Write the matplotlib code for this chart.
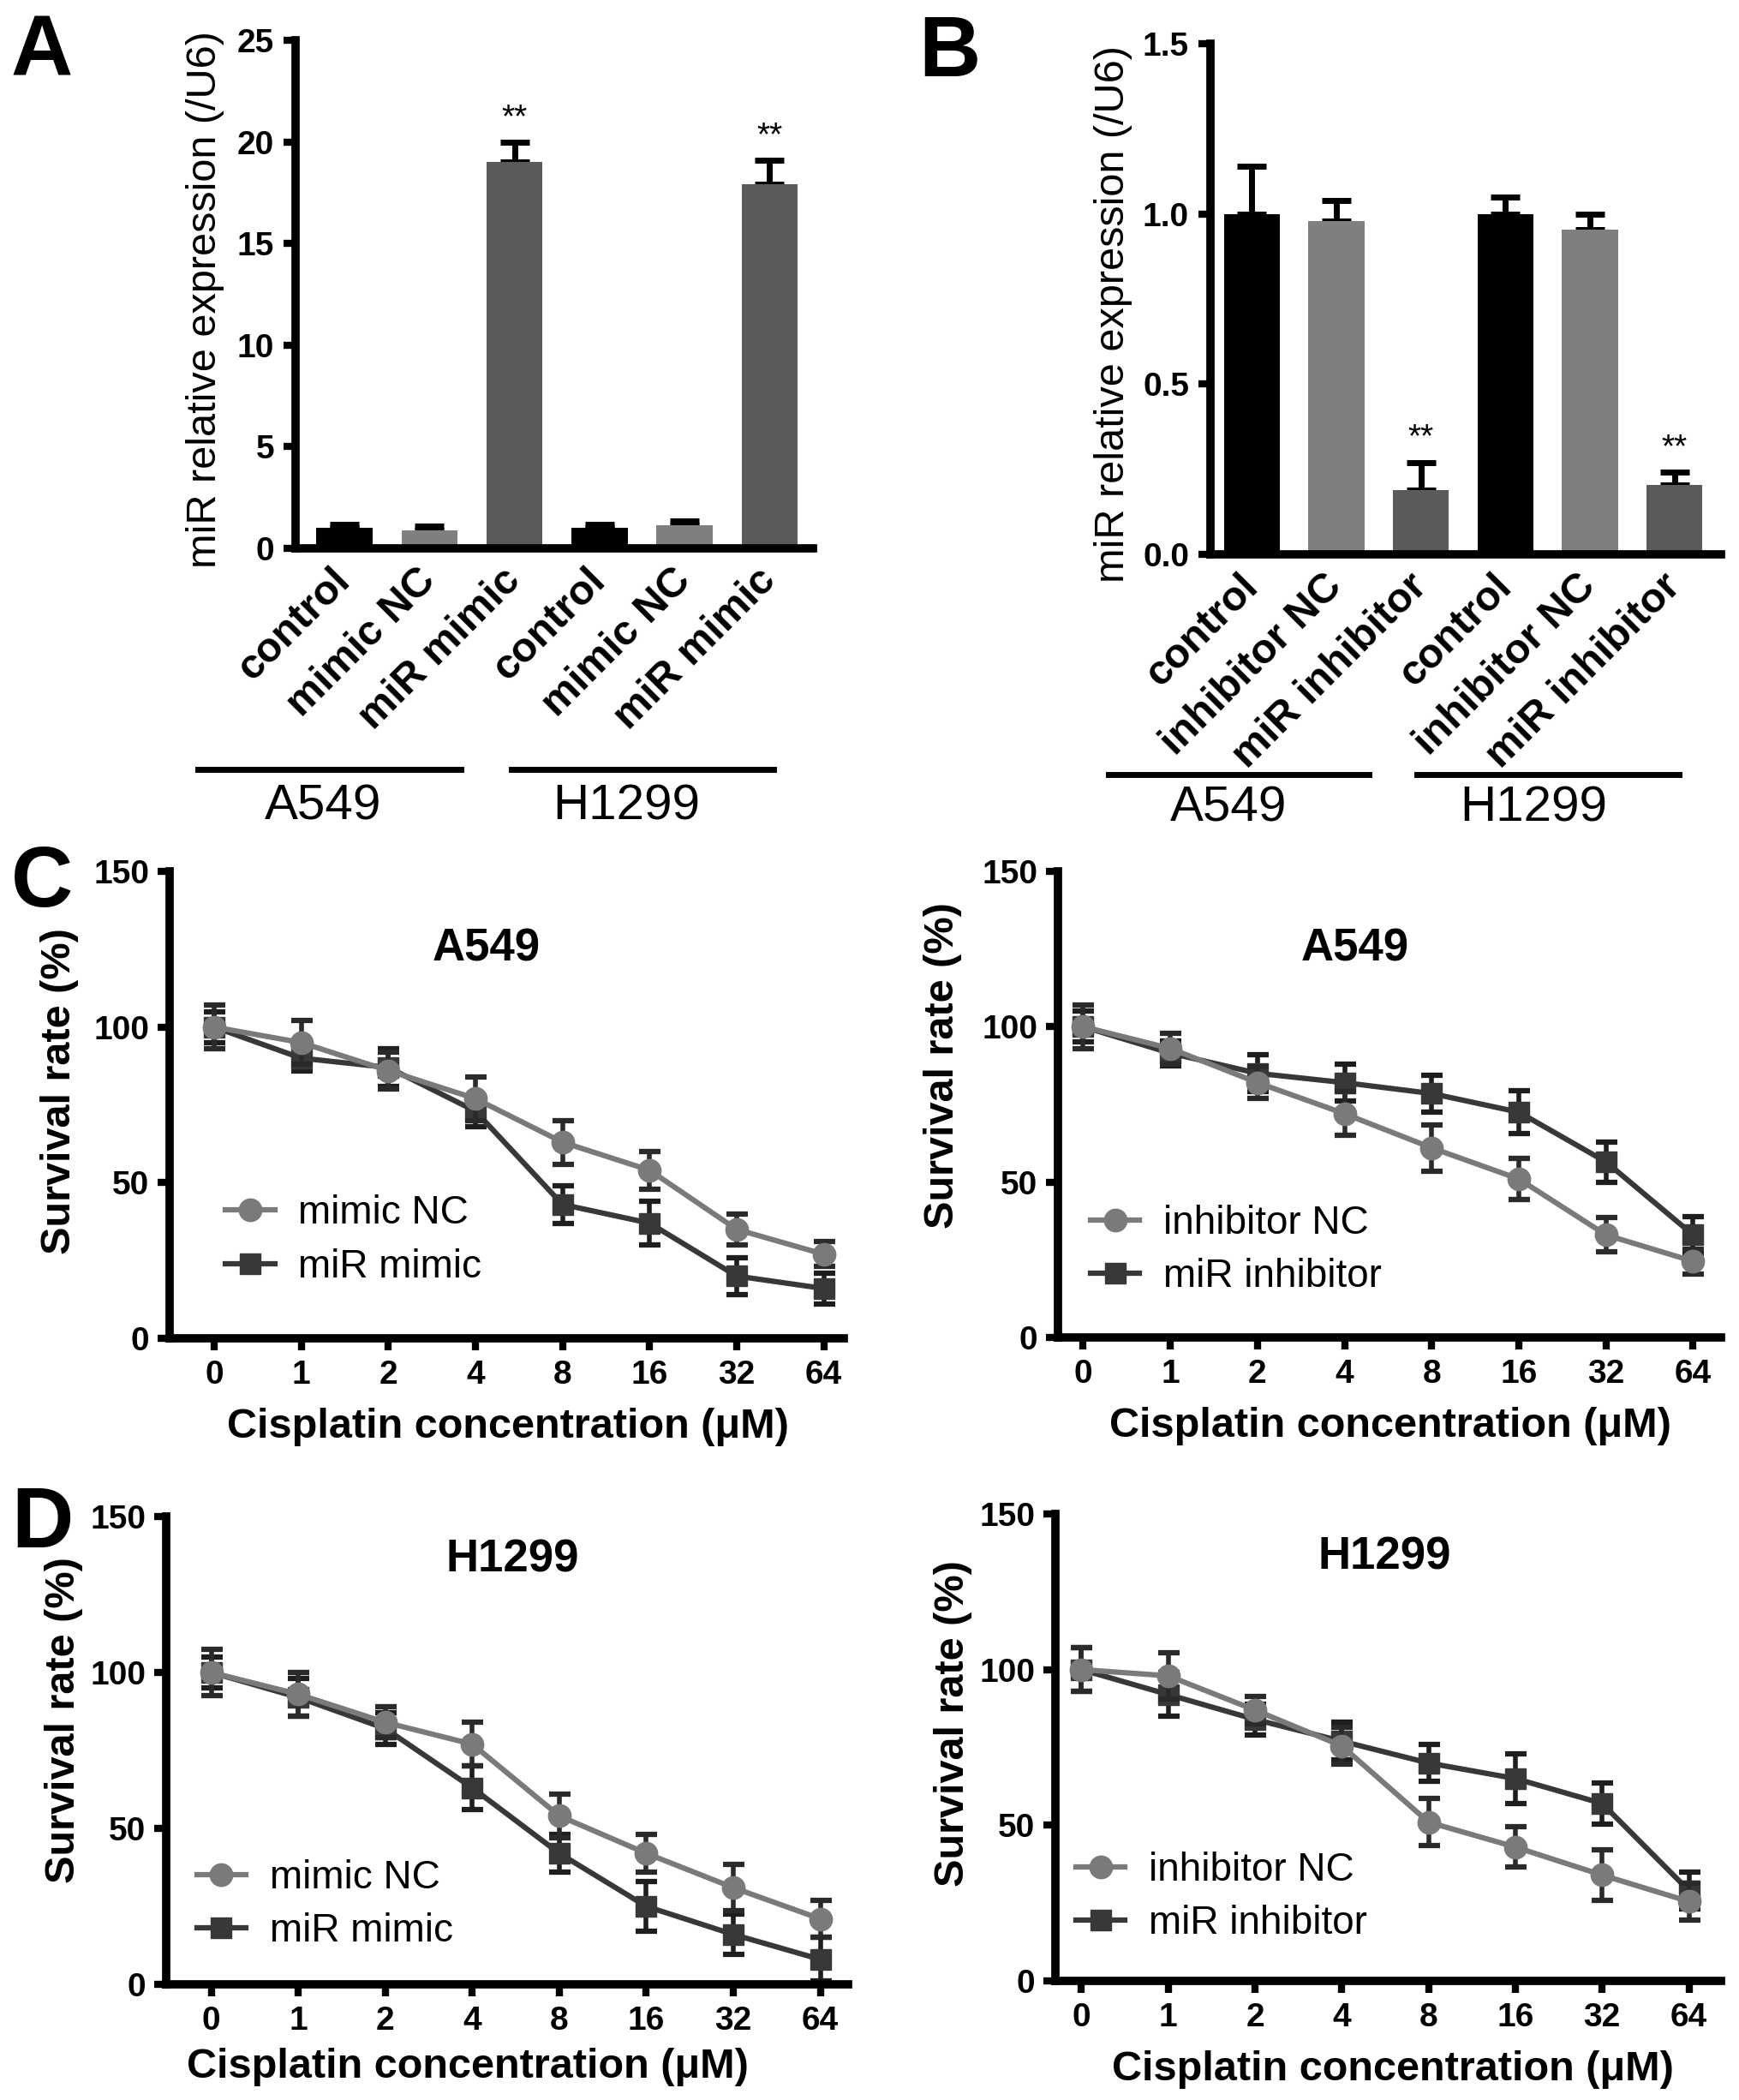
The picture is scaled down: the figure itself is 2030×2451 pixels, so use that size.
import matplotlib
matplotlib.use('Agg')
import matplotlib.pyplot as plt
from matplotlib.transforms import blended_transform_factory
import numpy as np

plt.rcParams['font.family'] = ['Liberation Sans', 'DejaVu Sans']

# ---- data ----
# panel A / B : qPCR bars
groups_a = ['control', 'mimic NC', 'miR mimic', 'control', 'mimic NC', 'miR mimic']
expr_a = [1.0, 0.9, 19.0, 1.0, 1.15, 17.9]
expr_a_err = [0.2, 0.2, 1.0, 0.2, 0.2, 1.2]

groups_b = ['control', 'inhibitor NC', 'miR inhibitor', 'control', 'inhibitor NC', 'miR inhibitor']
expr_b = [1.0, 0.98, 0.19, 1.0, 0.955, 0.205]
expr_b_err = [0.14, 0.06, 0.08, 0.05, 0.045, 0.037]

cell_lines = ['A549', 'H1299']
bar_colors = ['#000000', '#7f7f7f', '#5a5a5a', '#000000', '#7f7f7f', '#5a5a5a']

# panel C / D : survival curves
conc = ['0', '1', '2', '4', '8', '16', '32', '64']

a549_mimic_nc = [100, 95, 86, 77, 63, 54, 35, 27]
a549_mimic_nc_err = [7, 7, 6, 7, 7, 6, 5, 4]
a549_mir_mimic = [100, 90, 87, 73, 43, 37, 20, 16]
a549_mir_mimic_err = [5, 4, 6, 5, 6, 7, 6, 5]

a549_inh_nc = [100, 93, 82, 72, 61, 51, 33, 24.5]
a549_inh_nc_err = [7, 5, 5, 7, 7.5, 6.5, 5.5, 4]
a549_mir_inh = [100, 91.5, 85, 82, 78.5, 72.5, 56.5, 33]
a549_mir_inh_err = [5, 4, 6, 6, 6, 7, 6.5, 6]

h1299_mimic_nc = [100, 93, 84, 77, 54, 42, 31, 21]
h1299_mimic_nc_err = [7.5, 7, 5, 7, 7, 6, 7.5, 6]
h1299_mir_mimic = [100, 92, 82, 63, 42, 25, 16, 8]
h1299_mir_mimic_err = [5, 6, 5, 7, 6, 8, 6.5, 7]

h1299_inh_nc = [100, 98, 87, 75.5, 51, 43, 34, 25.5]
h1299_inh_nc_err = [7, 7.5, 4.5, 6, 7.5, 6.5, 8, 6]
h1299_mir_inh = [100, 92, 84, 77, 70, 65, 57, 29]
h1299_mir_inh_err = [7, 7, 5, 6, 6, 8, 6.5, 6]

W, H = 2031, 2451
fig = plt.figure(figsize=(W / 100, H / 100), dpi=100)


def add_ax(left, top, right, bottom):
    # pixel box -> figure fraction
    return fig.add_axes([left / W, 1 - bottom / H, (right - left) / W, (bottom - top) / H])


def style_axes(ax):
    for s in ['top', 'right']:
        ax.spines[s].set_visible(False)
    for s in ['left', 'bottom']:
        ax.spines[s].set_linewidth(7)
    ax.tick_params(width=6, length=10, color='black')


def bar_panel(ax, labels, vals, errs, ymax, yticks, fmt, star_gap, ylab_xy, lines, labs):
    x = np.arange(len(vals))
    ax.errorbar(x, vals, yerr=[np.zeros(len(vals)), errs], fmt='none', ecolor='black',
                elinewidth=5, capsize=12, capthick=5, zorder=1)
    ax.bar(x, vals, width=0.66, color=bar_colors, zorder=2)
    for i, lab in enumerate(labels):
        if lab.startswith('miR'):
            ax.text(i, vals[i] + errs[i] + star_gap, '**', ha='center', va='bottom', fontsize=28)
    style_axes(ax)
    ax.set_ylim(0, ymax)
    ax.set_yticks(yticks, [fmt % t for t in yticks], fontsize=28, weight='bold')
    ax.tick_params(axis='y', pad=8)
    ax.set_xticks(x, labels, rotation=45, ha='right', va='center', rotation_mode='anchor',
                  fontsize=35, weight='bold')
    ax.tick_params(axis='x', length=0, pad=22)
    ax.set_ylabel('miR relative expression (/U6)', fontsize=35)
    ax.yaxis.set_label_coords(*ylab_xy)
    ax.yaxis.label.set_va('center')
    trans = blended_transform_factory(ax.transData, ax.transAxes)
    for (x0, x1, yl), (name, xl, yt) in zip(lines, labs):
        ax.plot([x0, x1], [yl, yl], color='black', lw=5, transform=trans, clip_on=False)
        ax.text(xl, yt, name, transform=trans, ha='center', va='center', fontsize=42)


def line_panel(ax, nc, nc_err, mir, mir_err, names, title, title_xy, xlim, leg_xy,
               ylab_xy, xlab_xy):
    x = np.arange(len(conc))
    ax.errorbar(x, mir, yerr=mir_err, fmt='none', ecolor='#1e1e1e', elinewidth=4,
                capsize=9, capthick=4.5, zorder=2)
    h2, = ax.plot(x, mir, color='#383838', marker='s', ms=17, lw=4.5, zorder=3)
    ax.errorbar(x, nc, yerr=nc_err, fmt='none', ecolor='#2a2a2a', elinewidth=4,
                capsize=9, capthick=4.5, zorder=4)
    h1, = ax.plot(x, nc, color='#7a7a7a', marker='o', ms=19, lw=4.5, zorder=5)
    style_axes(ax)
    ax.set_xlim(*xlim)
    ax.set_ylim(0, 150)
    ax.set_yticks([0, 50, 100, 150], ['0', '50', '100', '150'], fontsize=28, weight='bold')
    ax.set_xticks(x, conc, fontsize=28, weight='bold')
    ax.tick_params(axis='x', pad=8)
    ax.tick_params(axis='y', pad=7)
    ax.text(title_xy[0], title_xy[1], title, ha='center', va='center', fontsize=38, weight='bold')
    ax.legend([h1, h2], names, loc='center left', bbox_to_anchor=leg_xy, frameon=False,
              fontsize=33, handlelength=1.25, handletextpad=0.6, labelspacing=0.4,
              borderpad=0, borderaxespad=0)
    ax.set_ylabel('Survival rate (%)', fontsize=35, weight='bold')
    ax.yaxis.set_label_coords(*ylab_xy)
    ax.yaxis.label.set_va('center')
    ax.set_xlabel('Cisplatin concentration (\u03bcM)', fontsize=35, weight='bold')
    ax.xaxis.set_label_coords(*xlab_xy)
    ax.xaxis.label.set_va('center')


# A
axA = add_ax(345, 47, 949, 640)
bar_panel(axA, groups_a, expr_a, expr_a_err, 25, [0, 5, 10, 15, 20, 25], '%d', 0.4,
          (-0.175, 0.49),
          [(-1.72, 1.37, -0.435), (1.96, 5.05, -0.435)],
          [(cell_lines[0], -0.25, -0.509), (cell_lines[1], 3.32, -0.509)])
axA.set_xlim(-0.575, 5.51)

# B
axB = add_ax(1413, 51, 2009, 647)
bar_panel(axB, groups_b, expr_b, expr_b_err, 1.5, [0.0, 0.5, 1.0, 1.5], '%.1f', 0.025,
          (-0.191, 0.47),
          [(-1.70, 1.38, -0.431), (1.95, 5.05, -0.431)],
          [(cell_lines[0], -0.28, -0.498), (cell_lines[1], 3.33, -0.498)])
axB.set_xlim(-0.49, 5.55)

# C
axC1 = add_ax(198, 1017, 985, 1562)
line_panel(axC1, a549_mimic_nc, a549_mimic_nc_err, a549_mir_mimic, a549_mir_mimic_err,
           ['mimic NC', 'miR mimic'], 'A549', (3.13, 125), (-0.51, 7.23), (0.083, 0.21),
           (-0.163, 0.53), (0.502, -0.19))
axC2 = add_ax(1235, 1017, 2009, 1561)
line_panel(axC2, a549_inh_nc, a549_inh_nc_err, a549_mir_inh, a549_mir_inh_err,
           ['inhibitor NC', 'miR inhibitor'], 'A549', (3.12, 125), (-0.29, 7.32), (0.049, 0.187),
           (-0.174, 0.584), (0.501, -0.19))

# D
axD1 = add_ax(194, 1770, 990, 2316)
line_panel(axD1, h1299_mimic_nc, h1299_mimic_nc_err, h1299_mir_mimic, h1299_mir_mimic_err,
           ['mimic NC', 'miR mimic'], 'H1299', (3.46, 136), (-0.52, 7.32), (0.045, 0.17),
           (-0.15, 0.564), (0.442, -0.176))
axD2 = add_ax(1232, 1767, 2009, 2312)
line_panel(axD2, h1299_inh_nc, h1299_inh_nc_err, h1299_mir_inh, h1299_mir_inh_err,
           ['inhibitor NC', 'miR inhibitor'], 'H1299', (3.49, 136), (-0.30, 7.37), (0.031, 0.18),
           (-0.154, 0.552), (0.507, -0.19))

# panel letters
for letter, px, py in [('A', 13, 89), ('B', 1072, 89), ('C', 13, 1058), ('D', 13, 1806)]:
    fig.text(px / W, 1 - py / H, letter, fontsize=72, weight='bold', ha='left', va='baseline')

fig.savefig('out.png', dpi=100)
